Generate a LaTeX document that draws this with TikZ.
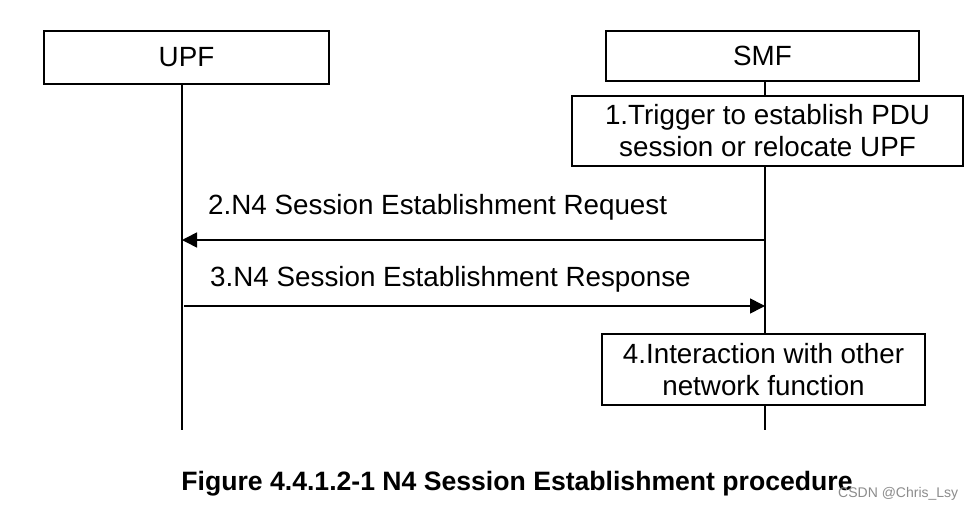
\documentclass[tikz,border=0pt]{standalone}
\usepackage{fontspec}
\setmainfont{Liberation Sans}
\usetikzlibrary{arrows.meta}
\tikzset{
  box/.style={draw=black, line width=1.6pt, inner sep=0pt, align=center, font=\fontsize{27.8}{32}\selectfont},
  lbl/.style={inner sep=0pt, anchor=base west, font=\fontsize{27.8}{32}\selectfont},
  life/.style={line width=1.6pt},
  msg/.style={line width=1.6pt, -{Triangle[length=15pt,width=15pt]}},
}
\begin{document}
\begin{tikzpicture}[x=1pt,y=-1pt]
\useasboundingbox[fill=white] (0,0) rectangle (973,508);
\node[box, minimum width=285pt, minimum height=53pt] (upf) at (186.5,57.5) {UPF};
\node[box, minimum width=313pt, minimum height=50pt] (smf) at (762.5,56) {SMF};
\coordinate (upfend) at (182,430);
\coordinate (smfend) at (765,430);
\coordinate (upftop) at (182,84);
\coordinate (smftop) at (765,81);
\draw[life] (upftop) -- (upfend);
\draw[life] (smftop) -- (smfend);
\node[box, fill=white, minimum width=391pt, minimum height=70pt] (s1) at (767.5,131) {1.Trigger to establish PDU\\session or relocate UPF};
\node[box, fill=white, minimum width=323pt, minimum height=71pt] (s4) at (763.5,369.5) {4.Interaction with other\\network function};
\coordinate (m2s) at (765,240);
\coordinate (m2e) at (182,240);
\coordinate (m3s) at (184,306);
\coordinate (m3e) at (765,306);
\draw[msg] (m2s) -- (m2e);
\draw[msg] (m3s) -- (m3e);
\node[lbl] (l2) at (208,214) {2.N4 Session Establishment Request};
\node[lbl] (l3) at (210,286) {3.N4 Session Establishment Response};
\node[inner sep=0pt, anchor=base, font=\fontsize{26.6}{30}\selectfont\bfseries] (cap) at (517,490) {Figure 4.4.1.2-1 N4 Session Establishment procedure};
\node[inner sep=0pt, anchor=base west, text=black!45, font=\fontsize{14}{16}\selectfont] (wm) at (838,497) {CSDN @Chris\_Lsy};
\end{tikzpicture}
\end{document}
